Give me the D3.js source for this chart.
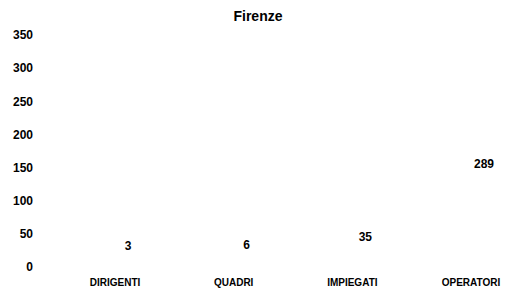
<!DOCTYPE html>
<html lang="it">
<head>
<meta charset="utf-8">
<title>Firenze</title>
<style>
  body { margin:0; background:#fff; }
  svg { display:block; }
  text { font-family: "Liberation Sans", Arial, sans-serif; fill:#000; }
  .cat { font-family: "Liberation Sans Narrow", "Arial Narrow", "Liberation Sans", sans-serif; font-size:10px; font-weight:bold; }
</style>
<script src="https://cdn.jsdelivr.net/npm/d3@7"></script>
</head>
<body>
<script>
var categories = ["DIRIGENTI", "QUADRI", "IMPIEGATI", "OPERATORI"];
var values = [3, 6, 35, 289];
var yTicks = [0, 50, 100, 150, 200, 250, 300, 350];

var width = 523, height = 293;

var svg = d3.select("body").append("svg")
  .attr("width", width)
  .attr("height", height);

// axis scale (tick labels only, no axis line)
var y = d3.scaleLinear().domain([0, 350]).range([267, 35]);
// the value labels sit on a flatter scale than the axis in the original
var yLab = d3.scaleLinear().domain([0, 350]).range([251, 151]);
var x = d3.scalePoint().domain(categories).range([115, 471]);

svg.append("text")
  .attr("x", 258).attr("y", 21)
  .attr("text-anchor", "middle")
  .style("font-weight", "bold")
  .style("font-size", "14px")
  .text("Firenze");

var yAxis = svg.append("g")
  .attr("transform", "translate(33,0)")
  .call(d3.axisLeft(y).tickValues(yTicks).tickSize(0).tickPadding(0));
yAxis.select(".domain").remove();
yAxis.selectAll("text")
  .style("font-family", "Liberation Sans, Arial, sans-serif")
  .style("font-size", "12px")
  .style("font-weight", "bold")
  .attr("fill", "#000");

svg.selectAll(".val")
  .data(values)
  .enter().append("text")
  .attr("class", "val")
  .attr("x", function(d, i){ return x(categories[i]) + 13; })
  .attr("y", function(d){ return yLab(d); })
  .attr("text-anchor", "middle")
  .style("font-size", "12px")
  .style("font-weight", "bold")
  .text(function(d){ return d; });

svg.selectAll(".cat")
  .data(categories)
  .enter().append("text")
  .attr("class", "cat")
  .attr("x", function(d){ return x(d); })
  .attr("y", 286)
  .attr("text-anchor", "middle")
  .text(function(d){ return d; });
</script>
</body>
</html>
